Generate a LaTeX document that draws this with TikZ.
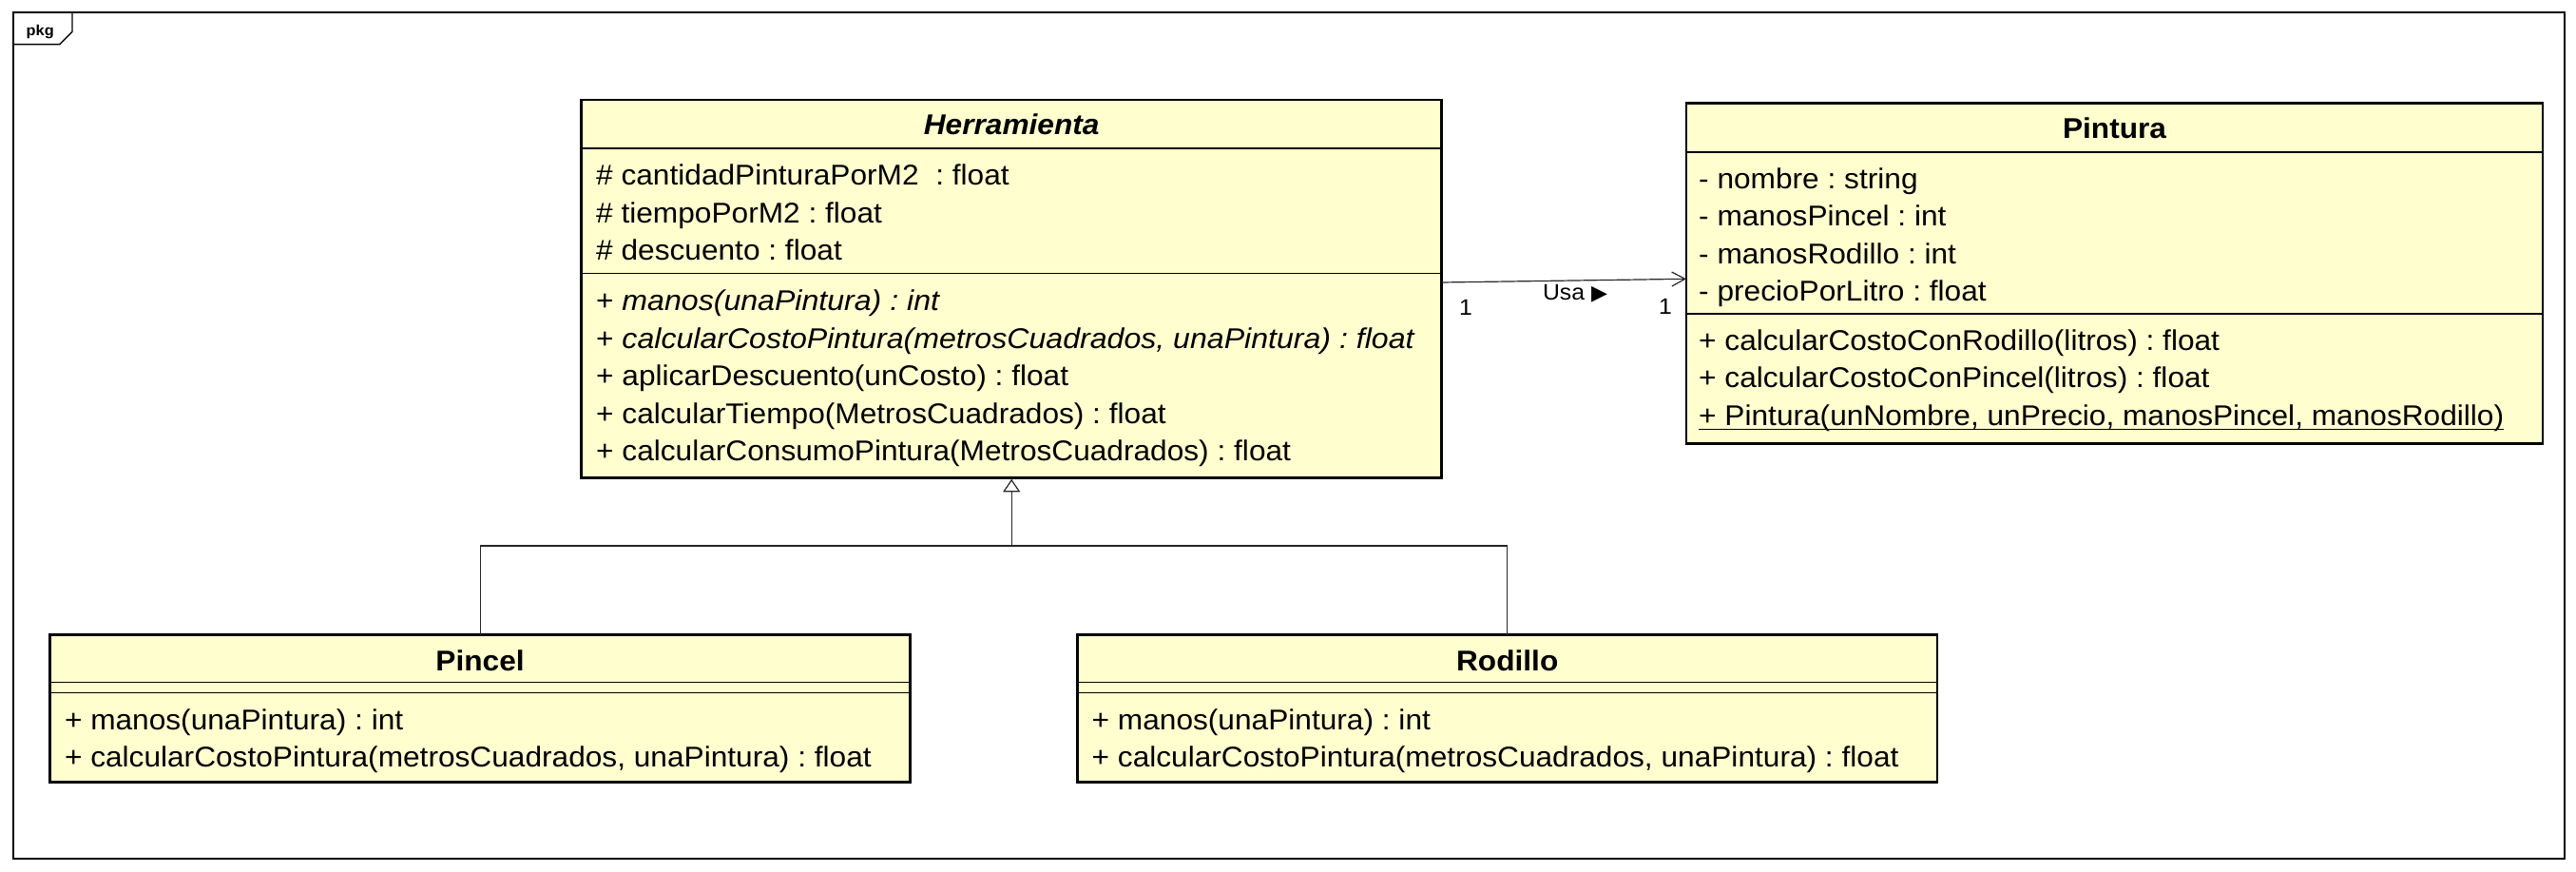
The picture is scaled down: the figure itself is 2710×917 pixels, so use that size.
\documentclass[tikz,border=0pt]{standalone}
\usepackage{fontspec}
\usetikzlibrary{arrows.meta}
\newfontfamily\umlfont[FakeStretch=1.055, ItalicFeatures={FakeStretch=1.07}]{Liberation Sans}
\newfontfamily\symfont{DejaVu Sans}
\definecolor{classfill}{HTML}{FEFECE}
\frenchspacing

\tikzset{
  classbox/.style={draw=black, fill=classfill, line width=2.5pt, inner sep=0pt, outer sep=0pt, anchor=north west},
  divider/.style={line width=1.2pt},
  member/.style={inner sep=0pt, anchor=base west, font=\umlfont\fontsize{30pt}{36pt}\selectfont},
  ctitle/.style={inner sep=0pt, anchor=base, font=\umlfont\bfseries\fontsize{30pt}{36pt}\selectfont},
  lbl/.style={inner sep=0pt, font=\umlfont\fontsize{23.5pt}{28pt}\selectfont},
  conn/.style={line width=1.2pt, draw=black!85},
  assoc/.style={conn, -{Straight Barb[length=14pt, width=15pt, line width=1.2pt]}},
  general/.style={conn, -{Triangle[length=13.5pt, width=18pt, fill=white, line width=1.2pt]}}
}

\begin{document}
\begin{tikzpicture}[x=1pt, y=-1pt]
  \useasboundingbox (0,0) rectangle (2710,917);
  \fill[white] (0,0) rectangle (2710,917);

  % package frame with its name tab
  \draw[line width=2pt] (13.5,13.5) rectangle (2697.5,902.5);
  \draw[line width=1.4pt] (13.5,46.7) -- (62.7,46.7) -- (76,33.3) -- (76,13.5);
  \node[inner sep=0pt, anchor=base west, font=\umlfont\bfseries\fontsize{15.5pt}{18pt}\selectfont] (pkg) at (27.5,37.3) {pkg};

  % class boxes
  \node[classbox, minimum width=905pt, minimum height=397.5pt] (herr) at (611.7,105) {};
  \node[classbox, minimum width=901pt, minimum height=358pt] (pint) at (1774,108.5) {};
  \node[classbox, minimum width=904.8pt, minimum height=155pt] (pincel) at (52.7,667.7) {};
  \node[classbox, minimum width=904.5pt, minimum height=155pt] (rod) at (1133.5,667.7) {};

  % compartment dividers
  \draw[divider] (611.7,156) -- (1516.7,156);
  \draw[divider] (611.7,287.3) -- (1516.7,287.3);
  \draw[divider] (1774,160) -- (2675,160);
  \draw[divider] (1774,330) -- (2675,330);
  \draw[divider] (52.7,717.3) -- (957.5,717.3);
  \draw[divider] (52.7,728.3) -- (957.5,728.3);
  \draw[divider] (1133.5,717.3) -- (2038,717.3);
  \draw[divider] (1133.5,728.3) -- (2038,728.3);

  % Herramienta
  \node[ctitle] (herr-t) at (1064.2,141.8) {\itshape Herramienta};
  \node[member] (herr-a1) at (627,194.7) {\# cantidadPinturaPorM2\ \ : float};
  \node[member] (herr-a2) at (627,234.2) {\# tiempoPorM2 : float};
  \node[member] (herr-a3) at (627,273.7) {\# descuento : float};
  \node[member] (herr-m1) at (627,326.7) {+ \itshape manos(unaPintura) : int};
  \node[member] (herr-m2) at (627,366.2) {+ \itshape calcularCostoPintura(metrosCuadrados, unaPintura) : float};
  \node[member] (herr-m3) at (627,405.7) {+ aplicarDescuento(unCosto) : float};
  \node[member] (herr-m4) at (627,445.2) {+ calcularTiempo(MetrosCuadrados) : float};
  \node[member] (herr-m5) at (627,484.7) {+ calcularConsumoPintura(MetrosCuadrados) : float};

  % Pintura
  \node[ctitle] (pint-t) at (2224.5,145.6) {Pintura};
  \node[member] (pint-a1) at (1787,198.2) {- nombre : string};
  \node[member] (pint-a2) at (1787,237.7) {- manosPincel : int};
  \node[member] (pint-a3) at (1787,277.2) {- manosRodillo : int};
  \node[member] (pint-a4) at (1787,316.7) {- precioPorLitro : float};
  \node[member] (pint-m1) at (1787,368.2) {+ calcularCostoConRodillo(litros) : float};
  \node[member] (pint-m2) at (1787,407.7) {+ calcularCostoConPincel(litros) : float};
  \node[member] (pint-m3) at (1787,447.2) {+ Pintura(unNombre, unPrecio, manosPincel, manosRodillo)};
  \draw[line width=1.2pt] ([yshift=-4pt]pint-m3.base west) -- ([yshift=-4pt]pint-m3.base east);

  % Pincel
  \node[ctitle] (pincel-t) at (505.1,705) {Pincel};
  \node[member] (pincel-m1) at (67.8,767.5) {+ manos(unaPintura) : int};
  \node[member] (pincel-m2) at (67.8,806.5) {+ calcularCostoPintura(metrosCuadrados, unaPintura) : float};

  % Rodillo
  \node[ctitle] (rod-t) at (1585.7,705) {Rodillo};
  \node[member] (rod-m1) at (1148.5,767.5) {+ manos(unaPintura) : int};
  \node[member] (rod-m2) at (1148.5,806.5) {+ calcularCostoPintura(metrosCuadrados, unaPintura) : float};

  % association Herramienta -> Pintura
  \draw[assoc] ([yshift=6.75pt]herr.east) -- ([yshift=-5.8pt]pint.west);
  \node[lbl] (mult-a) at (1542,323) {1};
  \node[lbl] (usa) at (1657,309) {Usa {\symfont\fontsize{22pt}{24pt}\selectfont ▶}};
  \node[lbl] (mult-b) at (1752,322) {1};

  % generalization Pincel, Rodillo -> Herramienta
  \coordinate (gj) at (herr.south |- 0,574);
  \draw[conn] (pincel.north) |- (gj);
  \draw[conn] (rod.north) |- (gj);
  \draw[general, shorten >=1.3pt] (gj) -- (herr.south);
\end{tikzpicture}
\end{document}
